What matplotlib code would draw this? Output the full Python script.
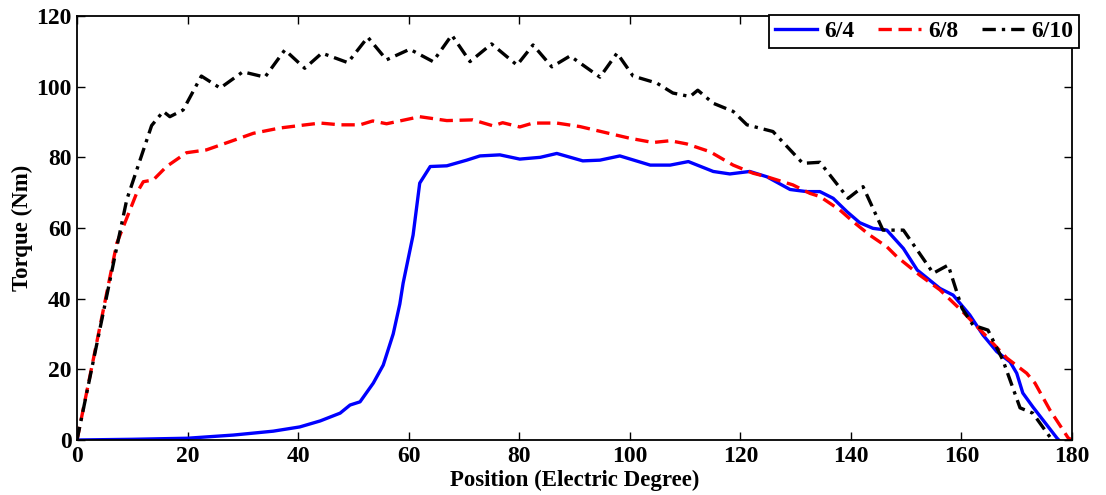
import matplotlib
matplotlib.use("Agg")
import matplotlib.pyplot as plt

# ---- data ----
x_64 = [0, 10, 20, 28.3, 35.5, 40.3, 44, 47.6, 49.4, 51.2, 53.6, 55.4, 57.2, 58.4, 59, 60.8,
        62, 63.9, 66.9, 70.5, 72.9, 76.5, 80.1, 83.8, 86.8, 91.5, 94.6, 98.2, 103.7,
        107.3, 110.6, 115.1, 118.1, 121.7, 124.8, 129, 132, 134.4, 136.8, 139.3, 141.6,
        144, 146.5, 149.5, 152, 156.1, 158.5, 161.5, 163.9, 166.4, 168.8, 170, 171.1,
        172.9, 177.3, 177.6]
y_64 = [0, 0.2, 0.5, 1.4, 2.5, 3.7, 5.4, 7.6, 9.9, 10.8, 16.1, 21.2, 30, 38.5, 44.4, 58,
        72.7, 77.4, 77.6, 79.2, 80.4, 80.7, 79.5, 80, 81.1, 79, 79.2, 80.4, 77.8,
        77.8, 78.8, 76, 75.3, 76, 74.5, 70.9, 70.3, 70.3, 68.4, 64.6, 61.5,
        59.9, 59.4, 54.2, 48.1, 42.9, 41, 35.4, 29.7, 25, 22.1, 18.9, 13.3,
        9.4, 0.5, 0]

x_68 = [0, 7.2, 10.8, 12, 13.8, 16.2, 19.8, 23.4, 27.6, 31.9, 36.7, 40.3, 44, 47.6,
        51.2, 53.5, 56, 62, 66.9, 71.6, 75.3, 77, 80.1, 82.5, 86.8, 91, 95.9, 100,
        104.2, 107.3, 110.3, 114.5, 118.7, 122.3, 124.8, 129.5, 132.6, 134.4, 138,
        140.4, 143.4, 146.5, 148.3, 152.5, 156.1, 160.3, 164.6, 168.2, 171.8, 173.3,
        176, 179.3, 180]
y_68 = [0, 55.7, 69.9, 73.1, 73.6, 77.4, 81.3, 82.1, 84.4, 86.8, 88.3, 89, 89.7, 89.2,
        89.2, 90.3, 89.5, 91.5, 90.4, 90.6, 88.9, 89.8, 88.6, 89.7, 89.7, 88.7, 86.9, 85.4,
        84.2, 84.7, 83.8, 81.6, 77.8, 75.5, 74.5, 72.2, 69.8, 68.9, 65.1,
        61.8, 58, 54.7, 51.9, 46.6, 42.5, 36.2, 29.2, 23.2, 18.9, 16.1,
        8.5, 0.6, 0]

x_610 = [0, 7.2, 9, 13.5, 15.6, 16.8, 19.2, 22.5, 25.9, 30, 34, 37.6, 41.2, 44.3, 49,
         52.6, 56, 60.2, 64.4, 67.8, 71.1, 75, 79.6, 82.5, 85.9, 89.2, 94.6, 97.7,
         100.6, 104.9, 107.8, 110.9, 112.3, 115.1, 118.7, 121.2, 125.9, 131.3, 134.4,
         139.5, 142.2, 145.8, 149.5, 154.9, 157.6, 160.1, 162.1, 164.8, 167.5, 170.6,
         172.9, 176.4]
y_610 = [0, 54.6, 68, 89, 93, 91.5, 93.4, 103, 99.6, 104.2, 102.7, 110.4, 105.2, 109.5, 106.8,
         114, 107.6, 110.6, 107.1, 114.6, 107.1, 112.1, 106.1, 111.8, 105.6, 108.7, 102.7, 109.5,
         103, 101, 98.2, 97.2, 99, 95.3, 93, 89.2, 87.3, 78.3, 78.6,
         68.4, 71.7, 59.4, 59.4, 47.2, 49.5, 37.3, 32.5, 31.1, 22.6, 9.1,
         7.6, 0]

labels = ["6/4", "6/8", "6/10"]
xticks = [0, 20, 40, 60, 80, 100, 120, 140, 160, 180]
yticks = [0, 20, 40, 60, 80, 100, 120]

plt.rcParams['font.family'] = ['Liberation Serif', 'DejaVu Serif']
plt.rcParams['font.weight'] = 'bold'

fig = plt.figure(figsize=(11.06, 4.95), dpi=100)
ax = fig.add_axes([77/1106, 55/495, (1072-77)/1106, (440-16)/495])

ax.plot(x_64, y_64, color='#0000ff', lw=2.4, label=labels[0])
ax.plot(x_68, y_68, color='#ff0000', lw=2.4, ls=(0, (4, 2)), label=labels[1])
ax.plot(x_610, y_610, color='black', lw=2.4, ls=(0, (4, 1.8, 1, 1.8)), label=labels[2])

ax.set_xlim(0, 180)
ax.set_ylim(0, 120)
ax.set_xticks(xticks)
ax.set_yticks(yticks)
ax.tick_params(direction='in', top=True, right=True, length=6, width=1,
               labelsize=17, pad=4)
for lab in ax.get_xticklabels() + ax.get_yticklabels():
    lab.set_fontweight('bold')
for s in ax.spines.values():
    s.set_linewidth(1.3)

ax.set_xlabel("Position (Electric Degree)", fontsize=16.5, fontweight='bold', labelpad=2)
ax.set_ylabel("Torque (Nm)", fontsize=16.5, fontweight='bold', labelpad=2)

leg = ax.legend(loc='upper right', bbox_to_anchor=(1079/1106, 1 - 15/495),
                bbox_transform=fig.transFigure, ncol=3,
                frameon=True, fancybox=False, borderaxespad=0,
                handlelength=1.8, handletextpad=0.3, columnspacing=1.0,
                borderpad=0.25, prop={'weight': 'bold', 'size': 17})
leg.get_frame().set_edgecolor('black')
leg.get_frame().set_linewidth(1.3)
leg.get_frame().set_alpha(1)

fig.savefig("out.png", dpi=100)
